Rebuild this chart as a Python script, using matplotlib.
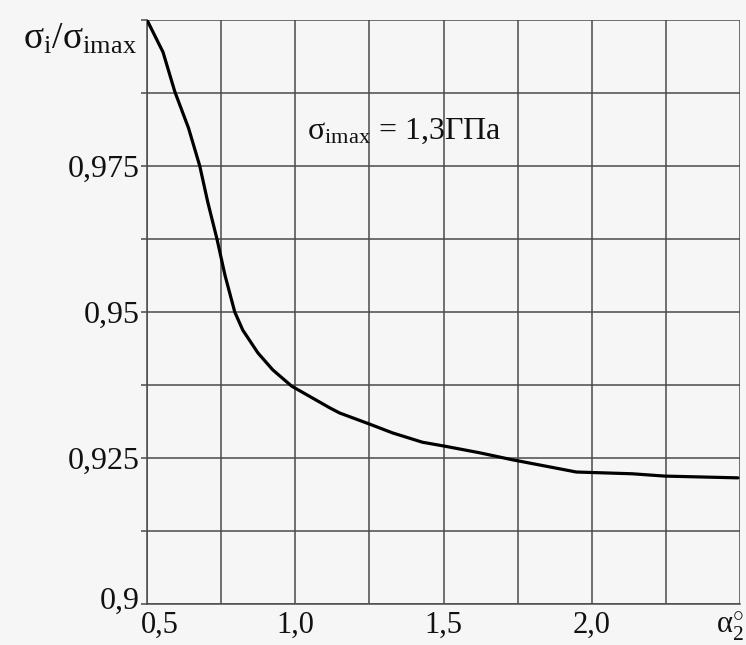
import matplotlib
matplotlib.use("Agg")
import matplotlib.pyplot as plt
import matplotlib.transforms as mtransforms
import numpy as np

# ---- data ----
alpha = [0.5, 0.554, 0.594, 0.640, 0.678, 0.705, 0.736, 0.763, 0.796, 0.823,
         0.874, 0.924, 0.988, 1.116, 1.150, 1.251, 1.328, 1.429, 1.507, 1.621,
         1.732, 1.948, 2.136, 2.247, 2.493]
ratio = [1.0, 0.9945, 0.9877, 0.9815, 0.9750, 0.9688, 0.9625, 0.9563, 0.9500, 0.9469,
         0.9430, 0.9401, 0.9373, 0.9336, 0.9327, 0.9308, 0.9293, 0.9277, 0.9270, 0.9259,
         0.9247, 0.9226, 0.9223, 0.9219, 0.9216]

x_tick_values = [0.5, 1.0, 1.5, 2.0]
x_tick_labels = ['0,5', '1,0', '1,5', '2,0']
y_tick_values = [0.9, 0.925, 0.95, 0.975]
y_tick_labels = ['0,9', '0,925', '0,95', '0,975']
x_grid = [0.75, 1.25, 1.75, 2.25, 2.5]
y_grid = [0.9125, 0.9375, 0.9625, 0.9875, 1.0]

y_label = r'$\mathrm{\sigma_i/\sigma_{imax}}$'
x_label = r'$\mathrm{\alpha^{\circ}_{2}}$'
note = r'$\mathrm{\sigma_{imax}}$' + ' = 1,3ГПа'

plt.rcParams['font.family'] = ['Liberation Serif', 'DejaVu Serif']
plt.rcParams['mathtext.fontset'] = 'custom'
plt.rcParams['mathtext.rm'] = 'Liberation Serif'
plt.rcParams['mathtext.it'] = 'Liberation Serif:italic'

bg = '#f6f6f6'
gc = '#4a4a4a'
fig = plt.figure(figsize=(7.46, 6.45), dpi=100, facecolor=bg)
ax = fig.add_axes([147/746, (645-604)/645, (740-147)/746, (604-20)/645])
ax.set_facecolor(bg)

ax.set_xlim(0.5, 2.5)
ax.set_ylim(0.9, 1.0)

ax.set_xticks(x_tick_values, x_tick_labels)
ax.set_yticks(y_tick_values, y_tick_labels)
ax.set_xticks(x_grid, minor=True)
ax.set_yticks(y_grid, minor=True)

for v in x_tick_values + x_grid:
    ax.axvline(v, color=gc, lw=1.1, zorder=1)
for v in y_tick_values + y_grid:
    ax.axhline(v, color=gc, lw=1.1, zorder=1)

for s in ['top', 'right']:
    ax.spines[s].set_visible(False)
for s in ['left', 'bottom']:
    ax.spines[s].set_color(gc)
    ax.spines[s].set_linewidth(1.1)

ax.tick_params(axis='x', which='both', length=0, pad=5, labelsize=22, colors='#111111')
ax.tick_params(axis='y', which='both', length=4, width=1.1, color=gc, pad=1,
               labelsize=23, labelcolor='#111111')

ax.plot(alpha, ratio, color='black', lw=2.3, zorder=3, solid_capstyle='round',
        solid_joinstyle='round')

# shift first x label right and lowest y label up (as in reference)
xl = ax.get_xticklabels()
xl[0].set_transform(xl[0].get_transform() + mtransforms.ScaledTranslation(13/100, 0, fig.dpi_scale_trans))
yl = ax.get_yticklabels()
yl[0].set_transform(yl[0].get_transform() + mtransforms.ScaledTranslation(0, 6/100, fig.dpi_scale_trans))

ax.text(-10/593, 1.0 - 2/584, y_label, transform=ax.transAxes, ha='right', va='top',
        fontsize=27, color='#111111')
ax.text(1.04, 0.981, note, ha='left', va='center', fontsize=23, color='#111111')
trans = mtransforms.blended_transform_factory(ax.transData, fig.transFigure)
ax.text(2.465, 2/645, x_label, transform=trans, ha='center', va='bottom',
        fontsize=22, color='#111111')

fig.savefig('out.png', dpi=100, facecolor=bg)
